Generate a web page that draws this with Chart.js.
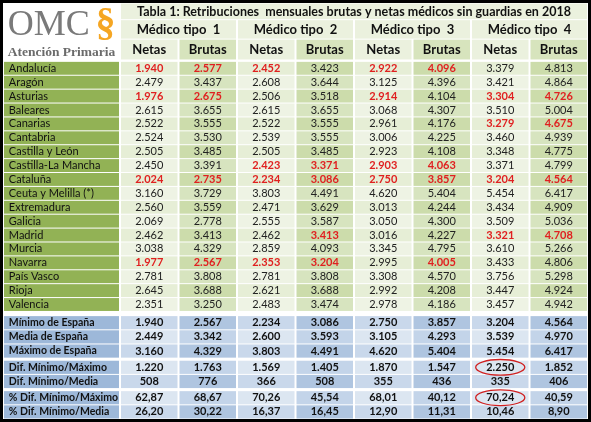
<!DOCTYPE html>
<html>
<head>
<meta charset="utf-8">
<script src="https://cdn.jsdelivr.net/npm/chart.js@4"></script>
<style>
  html, body { margin: 0; padding: 0; background: #fff; }
  #wrap { width: 591px; height: 422px; position: relative; }
</style>
</head>
<body>
<div id="wrap"><canvas id="tabla"></canvas></div>
<script>
const title = 'Tabla 1: Retribuciones  mensuales brutas y netas médicos sin guardias en 2018';
const groups = ['Médico tipo  1', 'Médico tipo  2', 'Médico tipo  3', 'Médico tipo  4'];
const subCols = ['Netas', 'Brutas'];

const regions = ['Andalucía', 'Aragón', 'Asturias', 'Baleares', 'Canarias', 'Cantabria', 'Castilla y León',
  'Castilla-La Mancha', 'Cataluña', 'Ceuta y Melilla (*)', 'Extremadura', 'Galicia', 'Madrid', 'Murcia',
  'Navarra', 'País Vasco', 'Rioja', 'Valencia'];

const regionValues = [
  [1940, 2577, 2452, 3423, 2922, 4096, 3379, 4813],
  [2479, 3437, 2608, 3644, 3125, 4396, 3421, 4864],
  [1976, 2675, 2506, 3518, 2914, 4104, 3304, 4726],
  [2615, 3655, 2615, 3655, 3068, 4307, 3510, 5004],
  [2522, 3555, 2522, 3555, 2961, 4176, 3279, 4675],
  [2524, 3530, 2539, 3555, 3006, 4225, 3460, 4939],
  [2505, 3485, 2505, 3485, 2923, 4108, 3348, 4775],
  [2450, 3391, 2423, 3371, 2903, 4063, 3371, 4799],
  [2024, 2735, 2234, 3086, 2750, 3857, 3204, 4564],
  [3160, 3729, 3803, 4491, 4620, 5404, 5454, 6417],
  [2560, 3559, 2471, 3629, 3013, 4244, 3434, 4909],
  [2069, 2778, 2555, 3587, 3050, 4300, 3509, 5036],
  [2462, 3413, 2462, 3413, 3016, 4227, 3321, 4708],
  [3038, 4329, 2859, 4093, 3345, 4795, 3610, 5266],
  [1977, 2567, 2353, 3204, 2995, 4005, 3433, 4806],
  [2781, 3808, 2781, 3808, 3308, 4570, 3756, 5298],
  [2645, 3688, 2621, 3688, 2992, 4208, 3447, 4924],
  [2351, 3250, 2483, 3474, 2978, 4186, 3457, 4942]
];

// columns highlighted in red per region row
const redCells = {
  0: [0, 1, 2, 4, 5], 2: [0, 1, 4, 6, 7], 4: [6, 7], 7: [2, 3, 4, 5],
  8: [0, 1, 2, 3, 4, 5, 6, 7], 12: [3, 6, 7], 14: [0, 1, 2, 3, 5]
};

const summaryLabels = ['Mínimo de España', 'Media de España', 'Máximo de España',
  'Dif. Mínimo/Máximo', 'Dif. Mínimo/Media', '% Dif. Mínimo/Máximo', '% Dif. Mínimo/Media'];
const summaryValues = [
  [1940, 2567, 2234, 3086, 2750, 3857, 3204, 4564],
  [2449, 3342, 2600, 3593, 3105, 4293, 3539, 4970],
  [3160, 4329, 3803, 4491, 4620, 5404, 5454, 6417],
  [1220, 1763, 1569, 1405, 1870, 1547, 2250, 1852],
  [508, 776, 366, 508, 355, 436, 335, 406],
  [62.87, 68.67, 70.26, 45.54, 68.01, 40.12, 70.24, 40.59],
  [26.20, 30.22, 16.37, 16.45, 12.90, 11.31, 10.46, 8.90]
];
const summaryDecimals = [false, false, false, false, false, true, true];
const circled = [[3, 6], [5, 6]];

function fmt(v, dec) {
  if (dec) return v.toFixed(2).replace('.', ',');
  const s = String(Math.round(v));
  return s.replace(/\B(?=(\d{3})+(?!\d))/g, '.');
}

// row bands in y units: [top, bottom]
function buildRows() {
  const rows = { data: [], summary: [] };
  let y = 4.2;
  for (let i = 0; i < regions.length; i++) { rows.data.push([y, y + 1]); y += 1; }
  y += 0.3;
  const gaps = [0, 0, 0, 0.15, 0, 0.15, 0];
  for (let i = 0; i < summaryLabels.length; i++) {
    y += gaps[i];
    rows.summary.push([y, y + 1.02]); y += 1.02;
  }
  rows.end = y;
  return rows;
}
const rows = buildRows();

const tablePlugin = {
  id: 'tabla',
  beforeDraw(chart) {
    const { ctx } = chart;
    const xs = chart.scales.x, ys = chart.scales.y;
    const X = v => xs.getPixelForValue(v), Y = v => ys.getPixelForValue(v);
    const cell = (x0, x1, y0, y1, fill) => {
      ctx.fillStyle = fill;
      ctx.fillRect(X(x0) + 1, Y(y0) + 0.5, X(x1) - X(x0) - 2, Y(y1) - Y(y0) - 1);
    };
    const text = (s, x, y, font, color, align) => {
      ctx.font = font; ctx.fillStyle = color; ctx.textAlign = align || 'center';
      ctx.textBaseline = 'middle'; ctx.fillText(s, x, y);
    };
    ctx.save();
    ctx.fillStyle = '#fff';
    ctx.fillRect(0, 0, chart.width, chart.height);

    // header
    cell(2, 10, 0, 1.2, '#EBF1DE');
    text(title, X(6), Y(0.62), 'bold 12.5px Lato', '#111');
    groups.forEach((g, i) => {
      cell(2 + i * 2, 4 + i * 2, 1.2, 2.6, '#EBF1DE');
      text(g, X(3 + i * 2), Y(1.9), 'bold 13px Lato', '#111');
      subCols.forEach((s, j) => {
        cell(2 + i * 2 + j, 3 + i * 2 + j, 2.6, 4.1, j ? '#D7E4BD' : '#EBF1DE');
        text(s, X(2.5 + i * 2 + j), Y(3.35), 'bold 13px Lato', '#111');
      });
    });

    // logo
    text('OMC', X(0.08), Y(1.6), '36px "Liberation Serif"', '#7a7a7a', 'left');
    text('§', X(1.75), Y(1.55), 'bold 40px "Liberation Serif"', '#F5A623');
    text('Atención Primaria', X(1), Y(3.55), 'bold 13.5px "Liberation Serif"', '#6b6b6b');

    // region rows
    regions.forEach((r, i) => {
      const [y0, y1] = rows.data[i];
      cell(0, 2, y0, y1, '#92B255');
      text(r, X(0.1), Y((y0 + y1) / 2), '11px Lato', '#111', 'left');
      const reds = redCells[i] || [];
      regionValues[i].forEach((v, c) => {
        const even = i % 2 === 0;
        const fill = c % 2 === 0 ? (even ? '#E6EED6' : '#EEF3E4') : (even ? '#CCDCAB' : '#D7E4BF');
        cell(2 + c, 3 + c, y0, y1, fill);
        const red = reds.includes(c);
        text(fmt(v), X(2.5 + c), Y((y0 + y1) / 2), (red ? 'bold ' : '') + '11px Lato',
          red ? '#E02020' : '#222');
      });
    });

    // summary rows
    summaryLabels.forEach((l, i) => {
      const [y0, y1] = rows.summary[i];
      cell(0, 2, y0, y1, '#9DB8D9');
      text(l, X(0.1), Y((y0 + y1) / 2), 'bold 10.5px Lato', '#111', 'left');
      summaryValues[i].forEach((v, c) => {
        const even = i % 2 === 0;
        const fill = c % 2 === 0 ? (even ? '#C9D8EB' : '#DCE6F1') : (even ? '#AFC5E0' : '#C3D4E9');
        cell(2 + c, 3 + c, y0, y1, fill);
        text(fmt(v, summaryDecimals[i]), X(2.5 + c), Y((y0 + y1) / 2), 'bold 11px Lato', '#111');
      });
    });

    // circled values
    ctx.strokeStyle = '#D02020'; ctx.lineWidth = 1.3;
    circled.forEach(([r, c]) => {
      const [y0, y1] = rows.summary[r];
      ctx.beginPath();
      ctx.ellipse(X(2.5 + c), Y((y0 + y1) / 2), (X(1) - X(0)) * 0.42, (Y(y1) - Y(y0)) * 0.55, 0, 0, Math.PI * 2);
      ctx.stroke();
    });

    // outer border
    ctx.strokeStyle = '#000'; ctx.lineWidth = 3;
    ctx.strokeRect(1.5, 1.5, chart.width - 3, chart.height - 3);
    ctx.restore();
  }
};

new Chart(document.getElementById('tabla'), {
  type: 'scatter',
  data: { datasets: [{ data: [] }] },
  options: {
    responsive: true,
    maintainAspectRatio: false,
    animation: false,
    events: [],
    layout: { padding: { left: 3, right: 3, top: 3, bottom: 3 } },
    plugins: { legend: { display: false }, tooltip: { enabled: false } },
    scales: {
      x: { type: 'linear', min: 0, max: 10, display: false },
      y: { type: 'linear', min: 0, max: rows.end, reverse: true, display: false }
    }
  },
  plugins: [tablePlugin]
});
</script>
</body>
</html>
